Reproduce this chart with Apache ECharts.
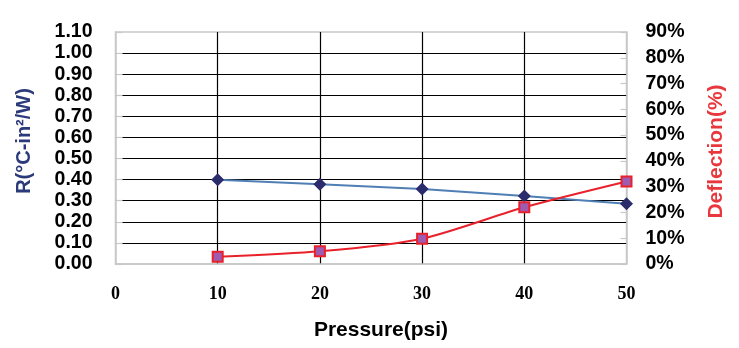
<!DOCTYPE html>
<html>
<head>
<meta charset="utf-8">
<script src="https://cdn.jsdelivr.net/npm/echarts@6/dist/echarts.min.js"></script>
<style>html,body{margin:0;padding:0;background:#fff;}#c{width:739px;height:348px;}</style>
</head>
<body>
<div id="c"></div>
<script>
var pressure = [10, 20, 30, 40, 50];
var resistance = [0.40, 0.378, 0.356, 0.322, 0.286];
var deflection = [2.8, 4.9, 9.8, 22, 32];
var leftTicks = {min: 0, max: 1.1, interval: 0.1};
var rightTicks = {min: 0, max: 90, interval: 10};
var xTicks = {min: 0, max: 50, interval: 10};

var chart = echarts.init(document.getElementById('c'));
var gray = '#C8C8C8';
chart.setOption({
  animation: false,
  grid: {left: 115.5, right: 112.5, top: 32, bottom: 84, show: true, borderColor: gray, borderWidth: 1.5},
  xAxis: {
    type: 'value', min: xTicks.min, max: xTicks.max, interval: xTicks.interval,
    name: 'Pressure(psi)', nameLocation: 'middle', nameGap: 56,
    nameTextStyle: {fontFamily: 'Liberation Sans', fontWeight: 'bold', fontSize: 21, color: '#000', padding: [0, 0, 0, 20]},
    axisLine: {show: true, lineStyle: {color: gray, width: 1.5}},
    axisTick: {show: false},
    axisLabel: {fontFamily: 'Liberation Serif', fontWeight: 'bold', fontSize: 18, color: '#000', margin: 21},
    splitLine: {show: true, showMinLine: false, showMaxLine: false, lineStyle: {color: '#000', width: 1.2}}
  },
  yAxis: [{
    type: 'value', min: leftTicks.min, max: leftTicks.max, interval: leftTicks.interval,
    name: 'R(°C-in²/W)', nameLocation: 'middle', nameRotate: 90, nameGap: 81,
    nameTextStyle: {fontFamily: 'Liberation Sans', fontWeight: 'bold', fontSize: 20, color: '#2B3A7A', padding: [0, 0, 0, 14]},
    axisLine: {show: true, lineStyle: {color: gray, width: 1.5}},
    axisTick: {show: true, inside: true, length: 7, lineStyle: {color: gray, width: 1.2}},
    axisLabel: {fontFamily: 'Liberation Sans', fontWeight: 'bold', fontSize: 19.5, color: '#000', margin: 23,
      formatter: function (v) { return v.toFixed(2); }},
    splitLine: {show: true, showMinLine: false, showMaxLine: false, lineStyle: {color: '#000', width: 1.2}}
  }, {
    type: 'value', position: 'right', min: rightTicks.min, max: rightTicks.max, interval: rightTicks.interval,
    name: 'Deflection(%)', nameLocation: 'middle', nameRotate: 90, nameGap: 79,
    nameTextStyle: {fontFamily: 'Liberation Sans', fontWeight: 'bold', fontSize: 21, color: '#E8383D', padding: [0, 7, 0, 0]},
    axisLine: {show: true, lineStyle: {color: gray, width: 1.5}},
    axisTick: {show: true, inside: true, length: 6, lineStyle: {color: gray, width: 1.2}},
    axisLabel: {fontFamily: 'Liberation Sans', fontWeight: 'bold', fontSize: 19.5, color: '#000', margin: 19, formatter: '{value}%'},
    splitLine: {show: false}
  }],
  series: [{
    type: 'line', yAxisIndex: 0,
    data: pressure.map(function (p, i) { return [p, resistance[i]]; }),
    symbol: 'diamond', symbolSize: [13, 13],
    lineStyle: {color: '#4F7FB5', width: 2},
    itemStyle: {color: '#2A2C6B'},
    z: 3
  }, {
    type: 'line', yAxisIndex: 1, smooth: 0.25,
    data: pressure.map(function (p, i) { return [p, deflection[i]]; }),
    symbol: 'rect', symbolSize: 10,
    lineStyle: {color: '#E8212B', width: 2},
    itemStyle: {color: '#9E5BB0', borderColor: '#E8212B', borderWidth: 2},
    z: 4
  }]
});
</script>
</body>
</html>
